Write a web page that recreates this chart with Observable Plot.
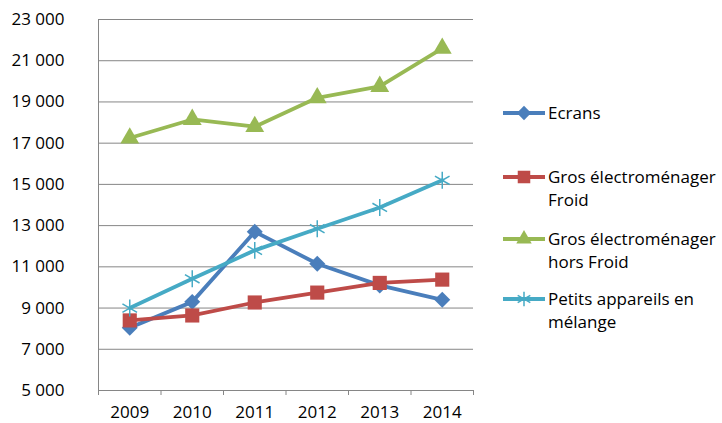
<!DOCTYPE html>
<html><head><meta charset="utf-8">
<script src="https://cdn.jsdelivr.net/npm/d3@7"></script>
<script src="https://cdn.jsdelivr.net/npm/@observablehq/plot@0.6"></script>
<style>
body{margin:0;background:#fff;font-family:"Open Sans",sans-serif;}
#wrap{position:relative;width:722px;height:423px;overflow:hidden;}
#legend{position:absolute;left:503px;top:0;width:219px;height:423px;}
.item{position:absolute;left:0;display:flex;align-items:flex-start;font-size:17px;line-height:23px;color:#000;}
.item svg{flex:none;}
.item span{margin-left:3px;white-space:nowrap;}
</style></head><body>
<div id="wrap"><div id="chart"></div><div id="legend"></div></div>
<script>
const years = [2009, 2010, 2011, 2012, 2013, 2014];
const seriesNames = ["Ecrans", "Gros électroménager Froid", "Gros électroménager hors Froid", "Petits appareils en mélange"];
const ecrans = [8050, 9300, 12700, 11150, 10100, 9400];
const grosFroid = [8400, 8640, 9270, 9750, 10220, 10380];
const grosHorsFroid = [17250, 18150, 17800, 19200, 19750, 21600];
const petits = [9000, 10420, 11800, 12850, 13880, 15200];
const yTicks = [5000, 7000, 9000, 11000, 13000, 15000, 17000, 19000, 21000, 23000];
const legendLines = [["Ecrans"], ["Gros électroménager", "Froid"], ["Gros électroménager", "hors Froid"], ["Petits appareils en", "mélange"]];

const colors = ["#4A7EBB", "#BE4B48", "#98B954", "#46AAC5"];
const symbols = ["diamond2", "square2", "triangle2", "asterisk"];
const allValues = [ecrans, grosFroid, grosHorsFroid, petits];

const data = [];
allValues.forEach((vals, si) => vals.forEach((v, i) => data.push({series: seriesNames[si], year: years[i], value: v})));
const bounds = [years[0] - 0.5, ...years.map(y => y + 0.5)];
const fmt = d => d3.format(",")(d).replace(/,/g, " ");

const marks = [
  Plot.gridY(yTicks, {stroke: "#868686", strokeOpacity: 1, strokeWidth: 1}),
  Plot.axisY(yTicks, {tickSize: 0, tickPadding: 34, tickFormat: fmt, fontSize: 17, fill: "#000", label: null}),
  Plot.ruleX([bounds[0]], {stroke: "#868686"}),
  Plot.axisX(bounds, {tickSize: 5, tickFormat: () => "", stroke: "#868686", label: null}),
  Plot.ruleY([5000], {stroke: "#868686"}),
  Plot.axisX(years, {tickSize: 0, tickPadding: 15, tickFormat: d => String(d), fontSize: 17, fill: "#000", label: null}),
];
const rMap = {diamond2: 7.2, square2: 9, triangle2: 9, asterisk: 8};
seriesNames.forEach((name, si) => {
  const d = data.filter(r => r.series === name);
  marks.push(Plot.line(d, {x: "year", y: "value", stroke: colors[si], strokeWidth: 3.8}));
  if (symbols[si] === "asterisk") {
    marks.push(Plot.dot(d, {x: "year", y: "value", symbol: "asterisk", r: rMap.asterisk, stroke: colors[si], strokeWidth: 1.5, fill: "none"}));
  } else {
    marks.push(Plot.dot(d, {x: "year", y: "value", symbol: symbols[si], r: rMap[symbols[si]], fill: colors[si], stroke: "none"}));
  }
});

const chart = Plot.plot({
  width: 722, height: 423,
  marginLeft: 98, marginRight: 249, marginTop: 19, marginBottom: 33,
  style: {fontFamily: "'Open Sans', sans-serif", background: "#fff"},
  x: {domain: [bounds[0], bounds[bounds.length - 1]], axis: null},
  y: {domain: [5000, 23000], axis: null},
  marks
});
document.getElementById("chart").appendChild(chart);

// legend
const legendTops = [101, 165, 227, 287];
const legendSizes = {diamond2: 130, square2: 200, triangle2: 170, asterisk: 150};
const symMap = {diamond2: d3.symbolDiamond2, square2: d3.symbolSquare2, triangle2: d3.symbolTriangle2, asterisk: d3.symbolAsterisk};
const leg = document.getElementById("legend");
legendLines.forEach((lines, si) => {
  const item = document.createElement("div");
  item.className = "item";
  item.style.top = legendTops[si] + "px";
  const sym = d3.create("svg").attr("width", 42).attr("height", 24);
  sym.append("line").attr("x1", 0).attr("x2", 42).attr("y1", 12).attr("y2", 12).attr("stroke", colors[si]).attr("stroke-width", 3.8);
  const p = sym.append("path").attr("transform", "translate(21,12)")
    .attr("d", d3.symbol(symMap[symbols[si]], legendSizes[symbols[si]])());
  if (symbols[si] === "asterisk") p.attr("fill", "none").attr("stroke", colors[si]).attr("stroke-width", 1.5);
  else p.attr("fill", colors[si]);
  item.appendChild(sym.node());
  const span = document.createElement("span");
  span.innerHTML = lines.join("<br>");
  item.appendChild(span);
  leg.appendChild(item);
});
</script>
</body></html>
